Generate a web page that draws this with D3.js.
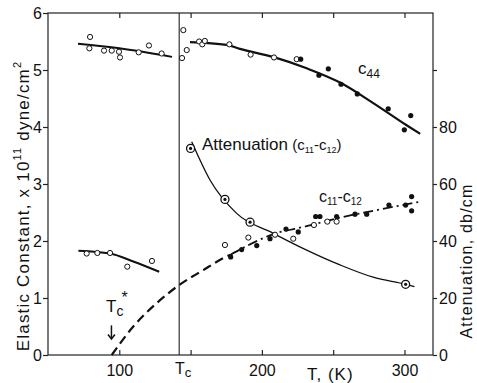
<!DOCTYPE html>
<html>
<head>
<meta charset="utf-8">
<script src="https://cdnjs.cloudflare.com/ajax/libs/d3/7.8.5/d3.min.js"></script>
<style>
  body { margin: 0; background: #fff; }
  text { font-family: "Liberation Sans", Arial, sans-serif; fill: #111; }
</style>
</head>
<body>
<div id="chart"></div>
<script>
// Data (T in K, elastic constants in 1e11 dyne/cm2, attenuation in db/cm)
const tc = 142;
const tcStar = 94.5;

const c44LowT = [79.5, 79, 89.3, 94.7, 99.8, 100.5, 113.6, 120.8, 129.7];
const c44LowV = [5.58, 5.38, 5.34, 5.34, 5.32, 5.22, 5.31, 5.43, 5.29];
const c44LowFitT = [71, 100, 137];
const c44LowFitV = [5.46, 5.38, 5.23];

const c44OpenT = [144.9, 144, 147.3, 156, 158.2, 160, 177.2, 192.1, 208.5, 224.4];
const c44OpenV = [5.70, 5.21, 5.35, 5.50, 5.45, 5.51, 5.45, 5.27, 5.22, 5.19];
const c44FillT = [227.2, 240, 246.6, 255.5, 266.9, 288.6, 304.4, 299.9];
const c44FillV = [5.19, 4.91, 5.02, 4.75, 4.58, 4.32, 4.20, 3.95];
const c44FitT = [149.6, 175.3, 184.6, 207.8, 231.4, 254.8, 278.1, 301.5, 311];
const c44FitV = [5.49, 5.44, 5.37, 5.23, 5.03, 4.78, 4.42, 4.03, 3.88];

const cdLowT = [77.1, 84.6, 93.5, 105.6, 122.9];
const cdLowV = [1.78, 1.79, 1.79, 1.55, 1.65];
const cdLowFitT = [71.3, 93.5, 109.8, 128];
const cdLowFitV = [1.83, 1.78, 1.64, 1.46];

const cdFillT = [178.1, 185.8, 196.4, 205.7, 216.9, 225.5, 237.7, 240.7, 252.4, 265.3, 273.5, 289.1, 300.8, 305, 305];
const cdFillV = [1.72, 1.85, 1.92, 2.04, 2.21, 2.16, 2.43, 2.43, 2.43, 2.47, 2.47, 2.63, 2.63, 2.78, 2.53];
const cdOpenT = [174.1, 190.5, 209.2, 222, 236.5, 245.9, 252.4];
const cdOpenV = [1.93, 2.06, 2.11, 2.04, 2.28, 2.34, 2.34];

const dashT = [94.7, 109.8, 126.2, 142.1, 158.9, 173, 178];
const dashV = [0, 0.50, 0.91, 1.23, 1.49, 1.70, 1.76];
const dashDotT = [178, 184.6, 208, 231.4, 254.8, 278, 311];
const dashDotV = [1.76, 1.85, 2.12, 2.26, 2.41, 2.53, 2.69];

const attPtT = [150, 174.1, 191.7, 300.8];
const attPtA = [72.5, 54.6, 46.6, 24.8];
const attFitT = [150.8, 163.6, 182.3, 208, 231.4, 254.8, 278, 300.8, 307];
const attFitA = [74.8, 61.4, 49.7, 42.7, 36.8, 31.6, 27.3, 24.8, 24];

const xTicks = [100, 150, 200, 250, 300];
const xTickLabels = ["100", "", "200", "", "300"];
const yTicks = [0, 1, 2, 3, 4, 5, 6];
const attTicks = [0, 20, 40, 60, 80, 100];
const attTickLabels = ["0", "20", "40", "60", "80", ""];

const w = 477, h = 383;
const m = { top: 13, right: 44, bottom: 28, left: 48 };

const svg = d3.select('#chart').append('svg')
  .attr('width', w)
  .attr('height', h);

const x = d3.scaleLinear().domain([50, 320]).range([m.left, w - m.right]);
const y = d3.scaleLinear().domain([0, 6]).range([h - m.bottom, m.top]);
const yAtt = d3.scaleLinear().domain([0, 120]).range([h - m.bottom, m.top]);

const zip = (a, b) => a.map((d, i) => [d, b[i]]);

// frame
svg.append('rect')
  .attr('x', m.left).attr('y', m.top)
  .attr('width', w - m.left - m.right)
  .attr('height', h - m.top - m.bottom)
  .attr('fill', 'none').attr('stroke', '#222').attr('stroke-width', 1.2);

// axes
const xBottom = d3.axisBottom(x).tickValues(xTicks).tickSize(-5)
  .tickFormat((d, i) => xTickLabels[i]).tickPadding(10);
svg.append('g').attr('transform', `translate(0,${h - m.bottom})`).call(xBottom);
const xTop = d3.axisTop(x).tickValues(xTicks).tickSize(-5).tickFormat('');
svg.append('g').attr('transform', `translate(0,${m.top})`).call(xTop);
const yLeft = d3.axisLeft(y).tickValues(yTicks).tickSize(5).tickPadding(1)
  .tickFormat(d3.format('d'));
svg.append('g').attr('transform', `translate(${m.left},0)`).call(yLeft);
const yRight = d3.axisRight(yAtt).tickValues(attTicks).tickSize(4).tickPadding(2)
  .tickFormat((d, i) => attTickLabels[i]);
svg.append('g').attr('transform', `translate(${w - m.right},0)`).call(yRight);

svg.selectAll('.domain').remove();
svg.selectAll('.tick line').attr('stroke', '#222').attr('stroke-width', 1.2);
svg.selectAll('.tick text')
  .style('font-family', '"Liberation Sans", Arial, sans-serif')
  .style('font-size', '16px').attr('fill', '#111');

// Tc line
svg.append('line')
  .attr('x1', x(tc)).attr('x2', x(tc))
  .attr('y1', m.top).attr('y2', h - m.bottom)
  .attr('stroke', '#222').attr('stroke-width', 1.1);

const lineE = d3.line().x(d => x(d[0])).y(d => y(d[1])).curve(d3.curveMonotoneX);
const lineA = d3.line().x(d => x(d[0])).y(d => yAtt(d[1])).curve(d3.curveMonotoneX);

// fitted curves
svg.append('path').datum(zip(c44LowFitT, c44LowFitV))
  .attr('d', lineE).attr('fill', 'none').attr('stroke', '#111').attr('stroke-width', 2);
svg.append('path').datum(zip(c44FitT, c44FitV))
  .attr('d', lineE).attr('fill', 'none').attr('stroke', '#111').attr('stroke-width', 2.2);
svg.append('path').datum(zip(cdLowFitT, cdLowFitV))
  .attr('d', lineE).attr('fill', 'none').attr('stroke', '#111').attr('stroke-width', 2);
svg.append('path').datum(zip(dashT, dashV))
  .attr('d', lineE).attr('fill', 'none').attr('stroke', '#111').attr('stroke-width', 2.2)
  .attr('stroke-dasharray', '9,5');
svg.append('path').datum(zip(dashDotT, dashDotV))
  .attr('d', lineE).attr('fill', 'none').attr('stroke', '#111').attr('stroke-width', 1.8)
  .attr('stroke-dasharray', '10,4,2,4');
svg.append('path').datum(zip(attFitT, attFitA))
  .attr('d', lineA).attr('fill', 'none').attr('stroke', '#111').attr('stroke-width', 1.3);

// markers
function openPts(t, v) {
  svg.append('g').selectAll('circle').data(zip(t, v)).join('circle')
    .attr('cx', d => x(d[0])).attr('cy', d => y(d[1])).attr('r', 2.6)
    .attr('fill', '#fff').attr('stroke', '#111').attr('stroke-width', 1);
}
function fillPts(t, v) {
  svg.append('g').selectAll('circle').data(zip(t, v)).join('circle')
    .attr('cx', d => x(d[0])).attr('cy', d => y(d[1])).attr('r', 2.6)
    .attr('fill', '#111');
}
openPts(c44LowT, c44LowV);
openPts(c44OpenT, c44OpenV);
fillPts(c44FillT, c44FillV);
openPts(cdLowT, cdLowV);
openPts(cdOpenT, cdOpenV);
fillPts(cdFillT, cdFillV);

const att = svg.append('g').selectAll('g').data(zip(attPtT, attPtA)).join('g')
  .attr('transform', d => `translate(${x(d[0])},${yAtt(d[1])})`);
att.append('circle').attr('r', 4).attr('fill', '#fff').attr('stroke', '#111').attr('stroke-width', 1.3);
att.append('circle').attr('r', 1.6).attr('fill', '#111');

// Tc* arrow
svg.append('line')
  .attr('x1', x(tcStar)).attr('x2', x(tcStar))
  .attr('y1', y(0.52)).attr('y2', y(0.3))
  .attr('stroke', '#111').attr('stroke-width', 1.5);
svg.append('path')
  .attr('d', `M${x(tcStar) - 3.5},${y(0.36)} L${x(tcStar)},${y(0.28)} L${x(tcStar) + 3.5},${y(0.36)}`)
  .attr('fill', 'none').attr('stroke', '#111').attr('stroke-width', 1.5);

// labels
function sub(sel, parts) {
  parts.forEach(s => {
    const t = sel.append('tspan').text(s[0]).style('font-size', s[1] + 'px').attr('dy', s[2]);
    if (s[3]) t.attr('dx', s[3]);
  });
}
const tStar = svg.append('text').attr('x', 106).attr('y', 312).style('font-size', '17px');
sub(tStar, [['T', 17, 0], ['c', 14, 4], ['*', 16, -13, -2]]);

const tcLab = svg.append('text').attr('x', 175).attr('y', 374).style('font-size', '16px');
sub(tcLab, [['T', 16, 0], ['c', 13, 3]]);

svg.append('text').attr('x', 307).attr('y', 380).style('font-size', '17px')
  .style('letter-spacing', '1px').text('T, (K)');

const attLab = svg.append('text').attr('x', 202).attr('y', 150).style('font-size', '17px');
sub(attLab, [['Attenuation', 17, 0], [' (c', 15, 0], ['11', 9, 3], ['-c', 15, -3], ['12', 9, 3], [')', 15, -3]]);

const c44Lab = svg.append('text').attr('x', 358).attr('y', 74).style('font-size', '17px');
sub(c44Lab, [['c', 17, 0], ['44', 12, 4]]);

const cdLab = svg.append('text').attr('x', 319).attr('y', 202).style('font-size', '16px');
sub(cdLab, [['c', 16, 0], ['11', 10, 3], ['-c', 16, -3], ['12', 10, 3]]);

// axis titles
const yl = svg.append('text')
  .attr('transform', 'translate(29,206) rotate(-90)')
  .attr('text-anchor', 'middle').style('font-size', '17px').style('letter-spacing', '1.2px');
sub(yl, [['Elastic  Constant,  x 10', 17, 0], ['11', 11, -8], [' dyne/cm', 17, 8], ['2', 11, -8]]);

svg.append('text')
  .attr('transform', 'translate(472,261) rotate(-90)')
  .attr('text-anchor', 'middle').style('font-size', '16px').style('letter-spacing', '1.2px')
  .text('Attenuation,  db/cm');
</script>
</body>
</html>
